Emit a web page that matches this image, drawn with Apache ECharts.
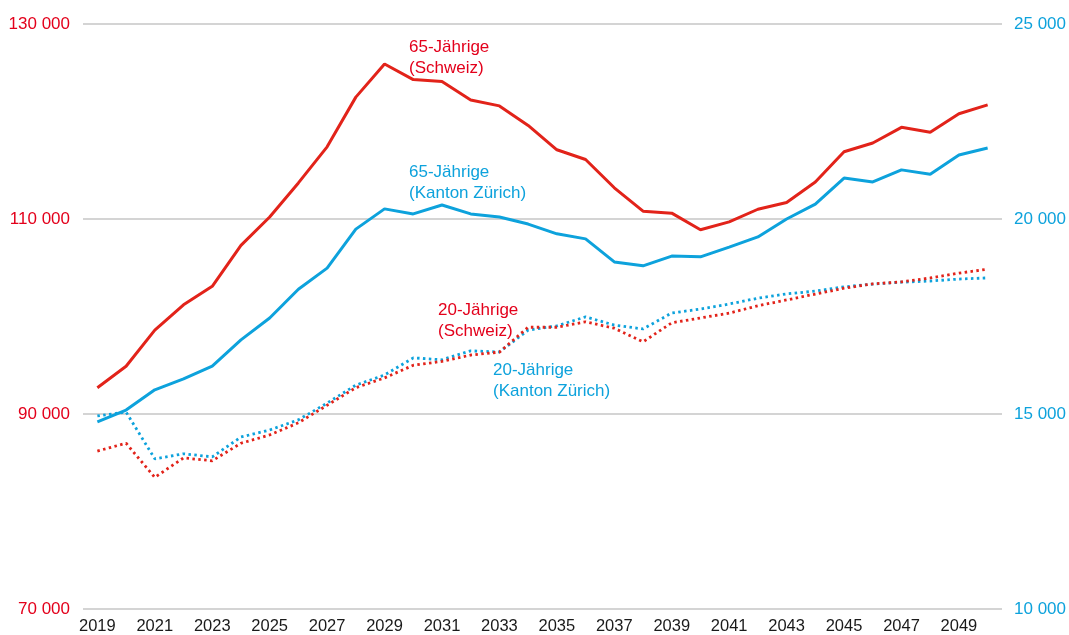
<!DOCTYPE html>
<html>
<head>
<meta charset="utf-8">
<script src="https://cdn.jsdelivr.net/npm/echarts@6/dist/echarts.min.js"></script>
<style>
  html, body { margin: 0; padding: 0; background: #fff; }
  #chart { width: 1069px; height: 635px; }
</style>
</head>
<body>
<div id="chart"></div>
<script>
// Jahre 2019-2050
const years = ['2019','2020','2021','2022','2023','2024','2025','2026','2027','2028','2029','2030','2031','2032','2033','2034',
  '2035','2036','2037','2038','2039','2040','2041','2042','2043','2044','2045','2046','2047','2048','2049','2050']

// linke Achse (Schweiz)
const ch65 = [92700, 94900, 98600, 101200, 103100, 107300, 110200, 113700, 117400, 122500, 125900, 124300, 124100, 122200, 121600, 119600,
  117100, 116100, 113200, 110800, 110600, 108900, 109700, 111000, 111700, 113800, 116900, 117800, 119400, 118900, 120800, 121700]
const ch20 = [86200, 87000, 83500, 85500, 85200, 87000, 87850, 89100, 90900, 92700, 93700, 95000, 95400, 96050, 96350, 98900,
  98900, 99450, 98800, 97400, 99350, 99850, 100350, 101100, 101700, 102300, 102900, 103350, 103550, 103950, 104450, 104850]

// rechte Achse (Kanton Zürich)
const zh65 = [14800, 15100, 15620, 15900, 16230, 16900, 17460, 18200, 18740, 19740, 20260, 20130, 20360, 20130, 20050, 19870,
  19620, 19490, 18900, 18800, 19050, 19030, 19280, 19540, 20000, 20380, 21050, 20950, 21260, 21150, 21640, 21820]
const zh20 = [14950, 15050, 13850, 13980, 13900, 14410, 14590, 14850, 15280, 15740, 16000, 16440, 16390, 16620, 16590, 17150,
  17260, 17490, 17280, 17180, 17590, 17690, 17820, 17970, 18080, 18150, 18260, 18330, 18380, 18410, 18460, 18490]

const leftTicks = [70000, 130000, 20000]
const rightTicks = [10000, 25000, 5000]

const RED = '#e2231a'
const RED_TXT = '#e3001b'
const BLUE = '#0da2dc'
const FONT = '"Liberation Sans", Arial, sans-serif'

const fmt = v => String(v).replace(/\B(?=(\d{3})+(?!\d))/g, ' ')

let chartDom = document.getElementById('chart')
let myChart = echarts.init(chartDom, null, {renderer: 'canvas'})

// Beschriftung der Linien
function lbl(x, y, txt, color) {
  return {
    type: 'text', left: x, top: y, silent: true,
    style: {text: txt, fill: color, font: '17px ' + FONT, lineHeight: 21}
  }
}

const option = {
  animation: false,
  backgroundColor: '#fff',
  grid: {left: 83, right: 66, top: 24, bottom: 26},
  xAxis: {
    type: 'category',
    data: years,
    boundaryGap: true,
    axisLine: {show: false},
    axisTick: {show: false},
    axisLabel: {interval: 1, color: '#1a1a1a', fontSize: 16.5, fontFamily: FONT, margin: 9}
  },
  yAxis: [
    {
      type: 'value', position: 'left',
      min: leftTicks[0], max: leftTicks[1], interval: leftTicks[2],
      axisLine: {show: false}, axisTick: {show: false},
      axisLabel: {color: RED_TXT, fontSize: 17, fontFamily: FONT, margin: 13, formatter: fmt},
      splitLine: {lineStyle: {color: '#c6c6c6', width: 1.5}}
    },
    {
      type: 'value', position: 'right',
      min: rightTicks[0], max: rightTicks[1], interval: rightTicks[2],
      axisLine: {show: false}, axisTick: {show: false},
      axisLabel: {color: BLUE, fontSize: 17, fontFamily: FONT, margin: 12, formatter: fmt},
      splitLine: {show: false}
    }
  ],
  series: [
    {name: '20-Jährige (Kanton Zürich)', type: 'line', yAxisIndex: 1, data: zh20, symbol: 'none',
      lineStyle: {color: BLUE, width: 2.8, type: [2.5, 3.4], cap: 'butt'}},
    {name: '20-Jährige (Schweiz)', type: 'line', yAxisIndex: 0, data: ch20, symbol: 'none',
      lineStyle: {color: RED, width: 2.8, type: [2.5, 3.4], cap: 'butt'}},
    {name: '65-Jährige (Kanton Zürich)', type: 'line', yAxisIndex: 1, data: zh65, symbol: 'none',
      lineStyle: {color: BLUE, width: 3}},
    {name: '65-Jährige (Schweiz)', type: 'line', yAxisIndex: 0, data: ch65, symbol: 'none',
      lineStyle: {color: RED, width: 3}}
  ],
  graphic: [
    lbl(409, 37, '65-Jährige\n(Schweiz)', RED_TXT),
    lbl(409, 162, '65-Jährige\n(Kanton Zürich)', BLUE),
    lbl(438, 300, '20-Jährige\n(Schweiz)', RED_TXT),
    lbl(493, 360, '20-Jährige\n(Kanton Zürich)', BLUE)
  ]
}

myChart.setOption(option)
</script>
</body>
</html>
